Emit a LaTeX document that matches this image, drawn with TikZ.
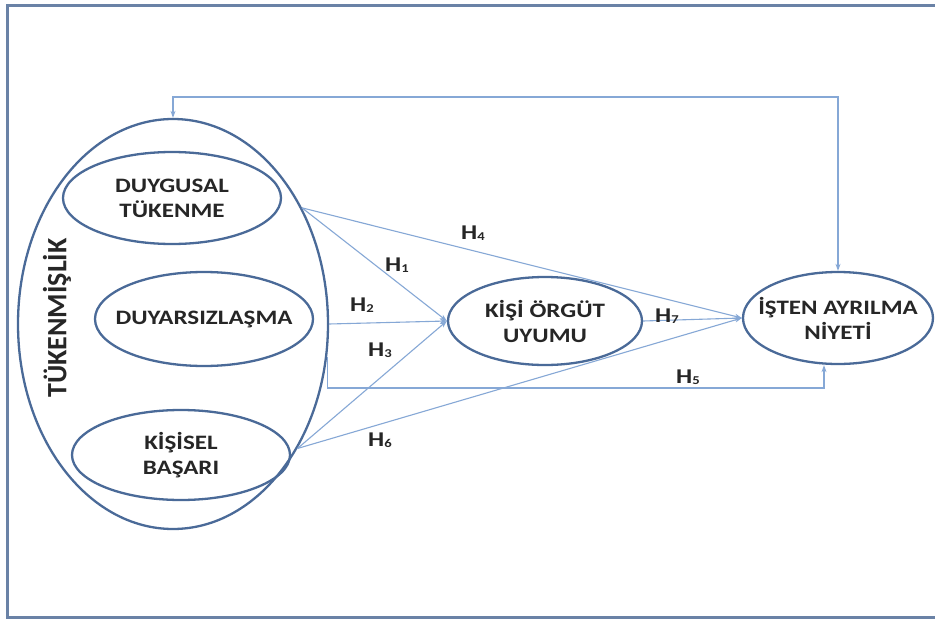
\documentclass[tikz,border=0pt]{standalone}
\usepackage{fontspec}
\setmainfont{Carlito}
\newfontfamily\lblfont[FakeStretch=1.22]{Carlito}
\usetikzlibrary{shapes.geometric,arrows.meta,calc}
\definecolor{ellc}{HTML}{4A6A98}
\definecolor{conc}{HTML}{86A8D6}
\definecolor{framec}{HTML}{6A82A6}
\definecolor{txtc}{HTML}{262626}
\tikzset{
  oval/.style={ellipse, draw=ellc, line width=2.3pt, inner xsep=-30pt, inner ysep=-10pt, align=center,
    font=\lblfont\bfseries\fontsize{20.5}{25}\selectfont, text=txtc},
  conn/.style={draw=conc, line width=1.1pt, -{Stealth[length=7pt,width=5pt]}},
  hlab/.style={font=\lblfont\bfseries\fontsize{21}{21}\selectfont, text=txtc, inner sep=0pt}
}
\newcommand{\hsub}[1]{H\raisebox{-0.5pt}{\fontsize{12}{12}\selectfont #1}}
\begin{document}
\begin{tikzpicture}[x=1pt,y=-1pt]
\useasboundingbox (0,0) rectangle (935,621);
\fill[white] (0,0) rectangle (935,621);
\draw[framec, line width=3pt] (950,5) -- (7,5) -- (7,617) -- (950,617);

\node[oval, minimum width=310pt, minimum height=410pt] (outer) at (173,324) {};
\node[oval, minimum width=218pt, minimum height=92pt] (duyg) at (172,198) {DUYGUSAL\\TÜKENME};
\node[oval, minimum width=218pt, minimum height=94pt] (duya) at (204,319) {DUYARSIZLAŞMA};
\node[oval, minimum width=218pt, minimum height=90pt] (kisel) at (181,455) {KİŞİSEL\\BAŞARI};
\node[oval, minimum width=194pt, minimum height=88pt] (kisi) at (545,321) {KİŞİ ÖRGÜT\\UYUMU};
\node[oval, minimum width=190pt, minimum height=92pt] (isten) at (838,318) {İŞTEN AYRILMA\\NİYETİ};
\node[rotate=90, font=\bfseries\fontsize{28}{28}\selectfont, text=txtc, inner sep=0pt] (tuk) at (57,318) {TÜKENMİŞLİK};

\coordinate (fbtop) at (0,97);
\coordinate (h5c) at (824,388);

\draw[conn] (outer.42.6) -- (kisi.west);
\draw[conn] (outer.42.6) -- (isten.west);
\draw[conn] (outer.0.5) -- (kisi.west);
\draw[conn] (outer.-45.9) -- (kisi.west);
\draw[conn] (outer.-45.9) -- (isten.west);
\draw[conn] (kisi.east) -- (isten.west);
\draw[conn] (outer.-12.2) |- (h5c) -- (h5c |- isten.south);
\draw[conn, {Stealth[length=7pt,width=5pt]}-{Stealth[length=7pt,width=5pt]}] (isten.north) -- (isten.north |- fbtop) -| (outer.north);

\node[hlab] (h1) at (397,265) {\hsub{1}};
\node[hlab] (h2) at (362,305) {\hsub{2}};
\node[hlab] (h3) at (380,350) {\hsub{3}};
\node[hlab] (h4) at (473,233) {\hsub{4}};
\node[hlab] (h5) at (688,377) {\hsub{5}};
\node[hlab] (h6) at (380,440) {\hsub{6}};
\node[hlab] (h7) at (667,316) {\hsub{7}};
\end{tikzpicture}
\end{document}
